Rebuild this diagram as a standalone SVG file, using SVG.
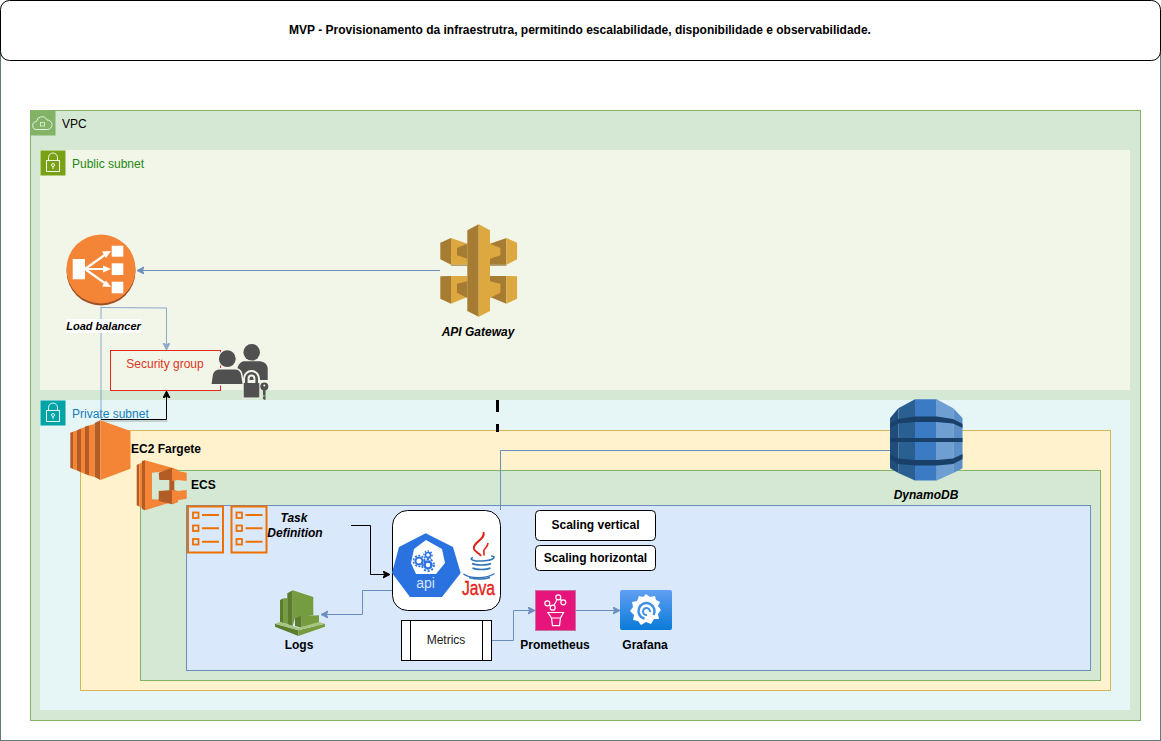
<svg xmlns="http://www.w3.org/2000/svg" width="1161" height="741" viewBox="0 0 1161 741">
<style>
text{font-family:"Liberation Sans",Arial,sans-serif;font-size:12px}
.b{font-weight:bold;fill:#000}
.bi{font-weight:bold;font-style:italic;fill:#000}
.m{text-anchor:middle}
.edge{fill:none;stroke:#6c8ebf;stroke-width:1}
.blk{fill:none;stroke:#000;stroke-width:1}
.wl{fill:none;stroke:#fff;stroke-width:1.200}
.gd{fill:#a67c33}
.gl{fill:#dca83f}
.od{fill:#b45c26}
.ol{fill:#f58536}
.ld{fill:#5c7d2e}
.ll{fill:#759c3e}
</style>
<defs>
<marker id="ab" markerWidth="8" markerHeight="8" refX="7" refY="3.500" orient="auto" markerUnits="userSpaceOnUse"><path d="M0 0L7 3.500L0 7L1.700 3.500Z" fill="#6c8ebf" stroke="#6c8ebf"/></marker>
<marker id="ak" markerWidth="8" markerHeight="8" refX="7" refY="3.500" orient="auto" markerUnits="userSpaceOnUse"><path d="M0 0L7 3.500L0 7L1.700 3.500Z" fill="#000" stroke="#000"/></marker>
<linearGradient id="gf" x1="0" y1="0" x2="0" y2="1"><stop offset="0" stop-color="#5f9ff2"/><stop offset="1" stop-color="#0a7bd8"/></linearGradient>
<clipPath id="dc"><path d="M915 399.300H936.700L953.300 408.300L962.700 418.300V468.300L953.300 473L936.700 480.500H915L898.300 473L890 468.300V418.300L898.300 408.300Z"/></clipPath>
<g id="tk"><rect x="0" y="0.500" width="35" height="46" fill="none" stroke="#ed7100" stroke-width="2"/><g fill="none" stroke="#ed7100" stroke-width="1.800"><rect x="5" y="6.500" width="5.500" height="5.500"/><rect x="5" y="19.500" width="5.500" height="5.500"/><rect x="5" y="33" width="5.500" height="5.500"/></g><path d="M14 9H31M14 22.300H31M14 35.700H31" stroke="#ed7100" stroke-width="2"/></g>
</defs>

<g id="canvas"><rect x="0.500" y="30.500" width="1160" height="710" fill="#fff" stroke="#5f7a80"/></g>

<g id="title"><rect x="0.500" y="0.500" width="1160" height="60" rx="9" fill="#fff" stroke="#000"/><text class="b m" x="580" y="34">MVP - Provisionamento da infraestrutra, permitindo escalabilidade, disponibilidade e observabilidade.</text></g>

<g id="vpc"><rect x="30.500" y="110.500" width="1110" height="610" fill="#d5e8d4" stroke="#82b366"/><rect x="30.500" y="110.500" width="25" height="25" fill="#82b366"/><path d="M37 129.500a4 4 0 0 1-.5-8a5.500 5.500 0 0 1 10.500-1.500a4.700 4.700 0 0 1 .5 9.500Z" fill="none" stroke="#e4f0e3"/><rect x="40.500" y="122.500" width="4" height="3.500" fill="none" stroke="#e4f0e3" stroke-width=".8"/><text x="62" y="128" fill="#000">VPC</text></g>

<g id="public-subnet"><rect x="40" y="150" width="1090" height="240" fill="#f2f6e8"/><rect x="40.500" y="150.500" width="25" height="25" fill="#7aa116"/><rect x="46.500" y="160.500" width="13" height="11" fill="none" stroke="#f2f6e8"/><path d="M48.500 160.500v-3a4.500 4.500 0 0 1 9 0v3" fill="none" stroke="#f2f6e8"/><circle cx="53" cy="165" r="1.500" fill="none" stroke="#f2f6e8"/><path d="M53 166.500v2.500" stroke="#f2f6e8"/><text x="72" y="168" fill="#248814">Public subnet</text></g>

<g id="private-subnet"><rect x="40" y="400" width="1090" height="310" fill="#e6f6f7"/><rect x="40.500" y="400.500" width="25" height="25" fill="#00a4a6"/><rect x="46.500" y="410.500" width="13" height="11" fill="none" stroke="#e6f6f7"/><path d="M48.500 410.500v-3a4.500 4.500 0 0 1 9 0v3" fill="none" stroke="#e6f6f7"/><circle cx="53" cy="415" r="1.500" fill="none" stroke="#e6f6f7"/><path d="M53 416.500v2.500" stroke="#e6f6f7"/><text x="72" y="418" fill="#147eba">Private subnet</text></g>

<g id="ec2-fargate-box"><rect x="80.500" y="430.500" width="1030" height="260" fill="#fff2cc" stroke="#d6b656"/></g>
<g id="ecs-box"><rect x="140.500" y="470.500" width="960" height="210" fill="#d5e8d4" stroke="#82b366"/></g>
<g id="task-box"><rect x="186.500" y="505.500" width="904" height="165" fill="#dae8fc" stroke="#6c8ebf"/></g>

<g id="connectors">
<path class="edge" d="M440 270.500H137" marker-end="url(#ab)"/>
<path class="edge" d="M101 307.500L166.500 308V350" marker-end="url(#ab)" opacity=".75"/>
<path class="edge" d="M101 307V420" opacity=".75"/>
<path d="M102 421H167.500" fill="none" stroke="#000" opacity=".3"/>
<path class="blk" d="M101 419.500H166.500V391" marker-end="url(#ak)"/>
<path class="edge" d="M500.500 510V450.500H890"/>
<path class="blk" d="M351 525.500H370.500V574.500H390" marker-end="url(#ak)"/>
<path class="edge" d="M393 590.500H362.500V614.500H321" marker-end="url(#ab)"/>
<path class="edge" d="M492 640.500H513.500V610.500H535" marker-end="url(#ab)"/>
<path class="edge" d="M576 610.500H620" marker-end="url(#ab)"/>
<path d="M497.500 400V412M497.500 424V432" fill="none" stroke="#000" stroke-width="3"/>
</g>

<g id="load-balancer">
<circle cx="101" cy="271" r="34.500" fill="#9d5025"/><circle cx="101" cy="269" r="34.500" fill="#f58536"/>
<rect x="72.700" y="259" width="12.300" height="20.300" fill="#fff"/><rect x="111.700" y="245.700" width="11.600" height="11" fill="#fff"/><rect x="111.700" y="263.300" width="11.600" height="11.700" fill="#fff"/><rect x="111.700" y="281.700" width="11.600" height="11.600" fill="#fff"/>
<path d="M85 269L106 254M85 269H106M85 269L106 284" stroke="#fff" stroke-width="2.200" fill="none"/><path d="M111 251L102 251.500L106 258ZM111 269L103 265.500V272.500ZM111 287L106 280.500L102 286.500Z" fill="#fff"/>
<rect x="66" y="319" width="75" height="14" fill="#fff"/><text class="bi m" x="103.500" y="329.500" style="font-size:11px">Load balancer</text>
</g>

<g id="security-group"><rect x="110.500" y="350.500" width="110" height="40" fill="none" stroke="#e7281d"/><text class="m" x="165" y="368" fill="#dd3522">Security group</text></g>

<g id="users-lock">
<circle cx="251.700" cy="352.300" r="8.300" fill="#505050"/><path d="M237.300 378V368.500C238.500 364 241 361.300 245 361.300H258C264 361.300 267 364 267.700 368V380H250Z" fill="#505050"/>
<path d="M210.700 384.700L212.300 374C213.500 370 216 368.700 220 368.700H235C239 368.700 241 370.500 241.700 374L243.500 384.700Z" fill="#505050" stroke="#f2f6e8" stroke-width="1.500"/>
<circle cx="227.300" cy="358.700" r="9" fill="#505050" stroke="#f2f6e8" stroke-width="1.200"/>
<path d="M246.300 383V378.500a5.200 5.200 0 0 1 10.400 0V383" fill="none" stroke="#f2f6e8" stroke-width="6.500"/>
<rect x="242.700" y="382" width="17.600" height="16.500" fill="#f2f6e8"/>
<path d="M246.300 383V378.500a5.200 5.200 0 0 1 10.400 0V383" fill="none" stroke="#505050" stroke-width="2.600"/>
<rect x="243.700" y="383" width="15.600" height="14.500" fill="#505050"/>
<circle cx="264.300" cy="386.500" r="4" fill="#505050"/><path d="M263 388H265.500V399.700H264L263 398.500V396.500H264.500V395.500H263Z" fill="#505050"/><circle cx="264.300" cy="385.500" r="1" fill="#f2f6e8"/>
</g>

<g id="api-gateway">
<path class="gd" d="M440.300 242.700L451 238V264.700L440.300 259.300Z"/><path class="gl" d="M451 238L467.300 243.700V264.700H451Z"/><path class="gd" d="M457 248L467.300 243.700V258.700L457 255.300Z"/>
<path d="M451 264.700H467.300V266H451Z" fill="#8a6a2c" opacity=".6"/>
<path class="gd" d="M440.300 276.300L451 276V303.700L440.300 298.700Z"/><path class="gl" d="M451 276H467.300V297L451 303.700Z"/><path class="gd" d="M457 283.700L467.300 281.300V298L457 292.700Z"/>
<path class="gd" d="M490 243.700L506.400 238V264.700H490Z"/><path class="gl" d="M506.400 238L517.100 242.700V259.300L506.400 264.700Z"/><path class="gl" d="M500.400 248L490 243.700V258.700L500.400 255.300Z"/>
<path d="M490 264.700H506.400V266H490Z" fill="#8a6a2c" opacity=".6"/>
<path class="gd" d="M490 276H506.400V303.700L490 297Z"/><path class="gl" d="M506.400 276L517.100 276.300V298.700L506.400 303.700Z"/><path class="gl" d="M500.400 283.700L490 281.300V298L500.400 292.700Z"/>
<path class="gd" d="M478.700 224.300L467.300 230.300V311L478.700 316.700Z"/><path class="gl" d="M478.700 224.300L490 230.300V311L478.700 316.700Z"/>
<text class="bi m" x="478" y="336">API Gateway</text>
</g>

<g id="dynamodb">
<g clip-path="url(#dc)">
<rect x="890" y="399" width="8.300" height="82" fill="#1f4e7d"/><rect x="898.300" y="399" width="16.700" height="82" fill="#2a5f92"/><rect x="915" y="399" width="21.700" height="82" fill="#3a7bc4"/><rect x="936.700" y="399" width="16.600" height="82" fill="#6f9ed2"/><rect x="953.300" y="399" width="9.400" height="82" fill="#5a8fc8"/>
<path d="M890 424L898 419L915 416.500H937L953 419L962.700 424V428L953 423.500L937 422H915L898 423.500L890 428ZM890 438H962.700V442H890ZM890 454L898 458.500L915 460H937L953 458.500L962.700 454V459L953 464L937 465.500H915L898 464L890 459Z" fill="#1a3f68"/>
</g>
<text class="bi m" x="926" y="499">DynamoDB</text>
</g>

<g id="ec2-fargate">
<path class="od" d="M70.300 432.700L73 431.700V469L70.300 467.700Z"/><path class="ol" d="M73 431.700L77 430.300V470.500L73 469Z"/>
<path class="od" d="M77 430.300L81 428.500V472.300L77 470.500Z"/><path class="ol" d="M81 428.500L85 427V474L81 472.300Z"/>
<path class="od" d="M85 426.500L89 425.500V475.500L85 474Z"/><path class="ol" d="M89 425.500L94.700 424V477L89 475.500Z"/>
<path class="od" d="M94.700 423L100.300 420.300V480L94.700 477Z"/><path class="ol" d="M100.300 420.300L130.500 431V468.700L100.300 480Z"/>
<text class="b" x="131" y="453">EC2 Fargete</text>
</g>

<g id="ecs">
<path class="od" d="M136.700 465L139.300 463.700V506.500L136.700 505.300Z"/><path class="ol" d="M139.300 463.700L142 462.500V507.800L139.300 506.500Z"/><path class="od" d="M142 461L145 460.300V510.300L142 509Z"/>
<path class="ol" fill-rule="evenodd" d="M145 460.300L172 467.700V470.500L152 472.700V499.300L172 500V502L145 510.300Z"/>
<path class="od" d="M158.700 472.700L172 467.700L177.700 470V480H159.300ZM169.300 480H174.300V490H169.300ZM158.700 491L172 490L177.700 491V502L172 504.300L158.700 501Z"/>
<path class="ol" d="M172 467.700L177.700 470V480L172 481ZM177.700 471L186.700 472.700V481L177.700 480ZM172 490L177.700 491V502L172 504.300ZM177.700 491L186.700 490V498.700L177.700 500.300Z"/>
<text class="b" x="191" y="489">ECS</text>
</g>

<g id="task-definition">
<use href="#tk" x="188" y="506"/><use href="#tk" x="231.500" y="506"/>
<text class="bi m" x="294" y="522">Task</text><text class="bi m" x="295" y="537">Definition</text>
</g>

<g id="logs">
<path class="ld" d="M280 600L283 598.500V623L280 622Z"/><path class="ll" d="M283 598.500L287.300 598V624L283 623Z"/>
<path class="ld" d="M287.300 593.300L292.700 590.300V626L287.300 624.300Z"/><path class="ll" d="M292.700 590.300L313.300 597V615.300L295 617.700L292.700 626Z"/>
<path class="ld" d="M295 617.700L301.700 616V627.700L295 626Z"/><path class="ll" d="M301.700 616L319 615.300V625.300L301.700 627.700Z"/>
<path class="ld" d="M275 623.700L298.300 630.300V636L275 626.700Z"/><path class="ll" d="M325 623.700L298.300 630.300V636L325 626.700Z"/>
<path d="M275 623.700L280 622L298 627.700L319 622L325 623.700L298.300 630.300Z" fill="#a9c481"/>
<text class="b m" x="299" y="649">Logs</text>
</g>

<g id="api-service">
<rect x="392.500" y="510.500" width="108" height="100" rx="15" fill="#fff" stroke="#000"/>
<path d="M425.700 533.300L453 547L460.700 573L442 597H410L392 573L399 547Z" fill="#2a72e0"/>
<path d="M426 540L442 549L445 563L436 574H416L411 563L414 549Z" fill="#fff"/>
<g fill="none" stroke="#2a72e0"><circle cx="419" cy="561" r="3.500" stroke-width="2"/><circle cx="419" cy="561" r="5.500" stroke-width="1.500" stroke-dasharray="2 1.500"/><circle cx="428" cy="555" r="2.500" stroke-width="1.500"/><circle cx="428" cy="555" r="4" stroke-width="1.500" stroke-dasharray="1.500 1.500"/><circle cx="428" cy="565" r="3.500" stroke-width="2.500"/><circle cx="428" cy="565" r="6" stroke-width="1.800" stroke-dasharray="2 1.800"/></g>
<text class="m" x="425.500" y="588" fill="#d6e4fa" style="font-size:14px">api</text>
<g fill="none" stroke="#e2231a" stroke-width="2"><path d="M483.500 532C486 540 472 542 474 549C475 552 479 553 481 556"/><path d="M488 543C488 548 482 549 484 552.500L484 555.500" stroke-width="1.600"/></g>
<g fill="none" stroke="#3174b8" stroke-width="1.500"><path d="M473 557.500c-6 2 3 4 9 3.500s12-1 12-4c0-1-2-1-3-1"/><path d="M472 563.500c4 2 15 2 19 0"/><path d="M472.500 568c4 2 14 2 18 0"/><path d="M463.500 574c7 5 23 5 31-.5"/><path d="M469 577.500c7 2 15 2 21 0"/></g>
<text x="462" y="594.500" fill="#e2231a" stroke="#e2231a" stroke-width=".4" textLength="33" lengthAdjust="spacingAndGlyphs" style="font-size:20.500px">Java</text>
</g>

<g id="scaling-vertical"><rect x="535.500" y="510.500" width="120" height="30" rx="4" fill="#fff" stroke="#000"/><text class="b m" x="595.500" y="529">Scaling vertical</text></g>
<g id="scaling-horizontal"><rect x="535.500" y="545.500" width="120" height="25" rx="4" fill="#fff" stroke="#000"/><text class="b m" x="595.500" y="562">Scaling horizontal</text></g>

<g id="metrics"><rect x="401.500" y="620.500" width="90" height="40" fill="#fff" stroke="#000"/><path d="M410.500 620.500V660.500M482.500 620.500V660.500" stroke="#000" fill="none"/><text class="m" x="446" y="644" fill="#1a1a1a">Metrics</text></g>

<g id="prometheus"><rect x="535.500" y="590.500" width="40" height="40" fill="#e7157b" stroke="#c5739f"/>
<circle class="wl" cx="547.300" cy="603.300" r="2.500"/><circle class="wl" cx="552.700" cy="607.700" r="2.500"/><circle class="wl" cx="558.300" cy="597.300" r="2.500"/><circle class="wl" cx="563.300" cy="602.300" r="2.500"/><path class="wl" d="M549.300 604.800L550.700 606.200M553.900 605.500L557.100 599.500M560.200 598.900L561.400 600.700"/>
<path class="wl" d="M548 612.500H563.500L560.500 618L559.500 625.700H552.500L551.500 618ZM551.500 618H560.500"/>
<text class="b m" x="555" y="649">Prometheus</text></g>

<g id="grafana"><rect x="620" y="590" width="52" height="40" rx="2" fill="url(#gf)"/>
<path d="M646 594L650 597L655 596L656 600L660 602L658 606L661 610L658 614L659 619L654 619L651 624L646 622L641 625L638 621L633 620L634 615L630 611L633 607L632 602L637 601L639 596L643 597Z" fill="#fff"/>
<path d="M653.500 615a8 8 0 1 0-9 3.800" fill="none" stroke="#3f8fe6" stroke-width="2.500"/><path d="M650 612a3.500 3.500 0 1 0-3 3" fill="none" stroke="#3f8fe6" stroke-width="2"/>
<text class="b m" x="645" y="649">Grafana</text></g>
</svg>
